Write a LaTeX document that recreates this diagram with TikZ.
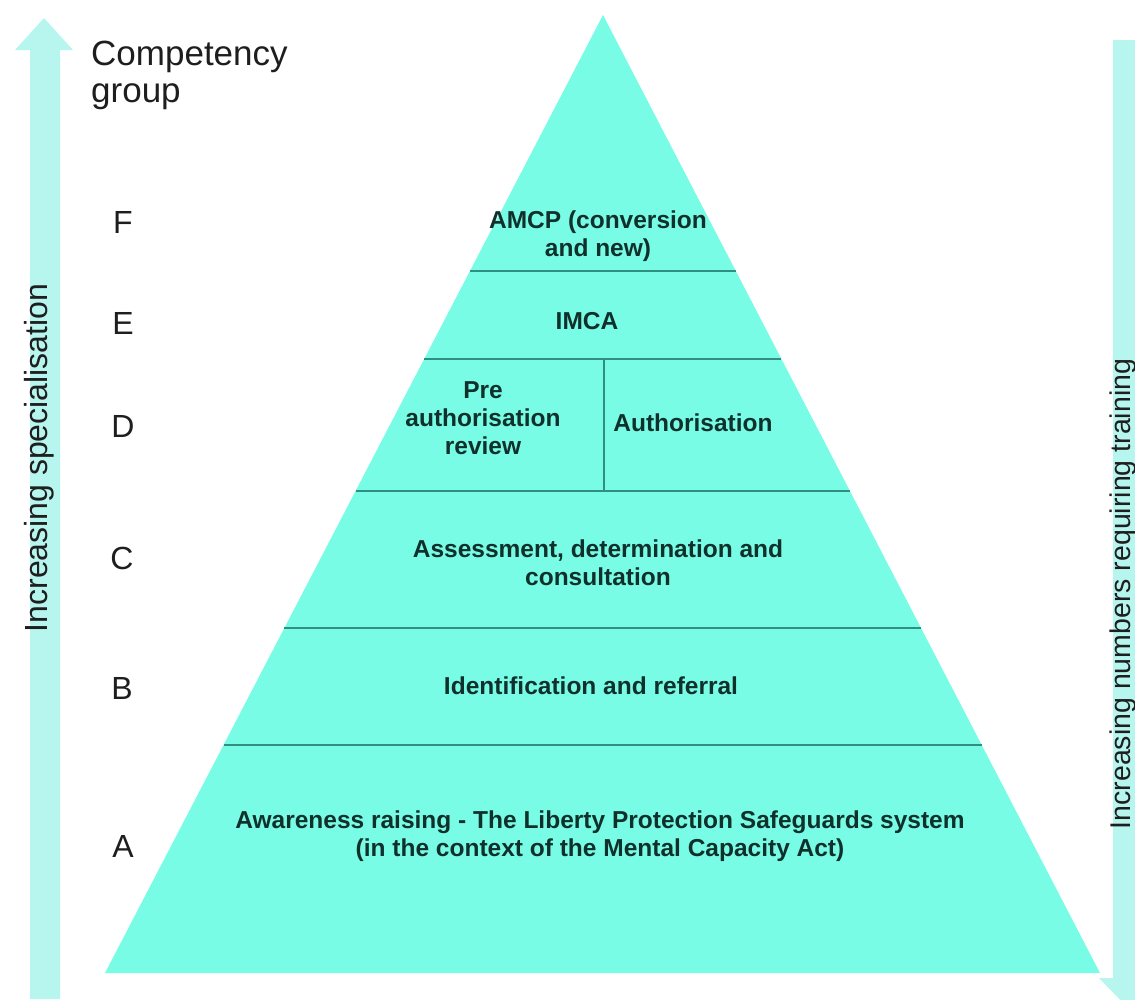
\documentclass[tikz,border=0pt]{standalone}
\usepackage{fontspec}
\setmainfont{Liberation Sans}
\usetikzlibrary{calc}

\definecolor{pyramidfill}{HTML}{78FCE6}
\definecolor{arrowfill}{HTML}{B6F6EF}
\definecolor{bandline}{HTML}{2F8F80}
\definecolor{inktext}{HTML}{1E1E1E}
\definecolor{bandtext}{HTML}{10302B}

\begin{document}
\begin{tikzpicture}[x=1pt,y=-1pt]
        \tikzstyle{sidelabel}=[text=inktext, font=\fontsize{32}{36}\selectfont, inner sep=0pt]
        \tikzstyle{level}=[text=inktext, font=\fontsize{32}{36}\selectfont, inner sep=0pt]
        \tikzstyle{band}=[text=bandtext, font=\bfseries\fontsize{24.5}{28}\selectfont, align=center, inner sep=0pt]
        \tikzstyle{divider}=[draw=bandline, line width=1.4pt]
        \clip (0,0) rectangle (1135,999);

        % side arrows
        \fill[arrowfill] (30,999) -- (30,50) -- (15,50) -- (44,18) -- (73,50)
          -- (60,50) -- (60,999) -- cycle;
        \fill[arrowfill] (1113,40) -- (1113,978) -- (1099,978) -- (1128,1008)
          -- (1157,978) -- (1143,978) -- (1143,40) -- cycle;

        % pyramid
        \coordinate (top) at (603,15);
        \coordinate (bl) at (105,973);
        \coordinate (br) at (1100,973);
        \fill[pyramidfill] (top) -- (bl) -- (br) -- cycle;

        \draw[divider] ($(top)!0.2672!(bl)$) -- ($(top)!0.2672!(br)$);
        \draw[divider] ($(top)!0.3591!(bl)$) -- ($(top)!0.3591!(br)$);
        \draw[divider] ($(top)!0.4969!(bl)$) -- ($(top)!0.4969!(br)$);
        \draw[divider] ($(top)!0.6399!(bl)$) -- ($(top)!0.6399!(br)$);
        \draw[divider] ($(top)!0.7620!(bl)$) -- ($(top)!0.7620!(br)$);
        \draw[divider] (604,359) -- (604,491);

        % band texts
        \node[band] (amcp) at (598,236) {AMCP (conversion\\and new)};
        \node[band] (imca) at (587,321) {IMCA};
        \node[band] (pre) at (483,418) {Pre\\authorisation\\review};
        \node[band] (auth) at (693,423) {Authorisation};
        \node[band] (assess) at (598,563) {Assessment, determination and\\consultation};
        \node[band] (ident) at (591,686) {Identification and referral};
        \node[band] (aware) at (600,836) {Awareness raising - The Liberty Protection Safeguards system\\(in the context of the Mental Capacity Act)};

        % competency groups
        \node[level, font=\fontsize{35}{37}\selectfont, align=left, anchor=north west] (title) at (91,41) {Competency\\group};
        \node[level] (f) at (123,222) {F};
        \node[level] (e) at (123,323) {E};
        \node[level] (d) at (123,426) {D};
        \node[level] (c) at (122,558) {C};
        \node[level] (b) at (122,688) {B};
        \node[level] (a) at (123,846) {A};

        % arrow labels
        \node[sidelabel, rotate=90] (spec) at (39,458) {Increasing specialisation};
        \node[sidelabel, font=\fontsize{28.5}{32}\selectfont, rotate=90] (numbers) at (1123,594) {Increasing numbers requiring training};
      \end{tikzpicture}
\end{document}
